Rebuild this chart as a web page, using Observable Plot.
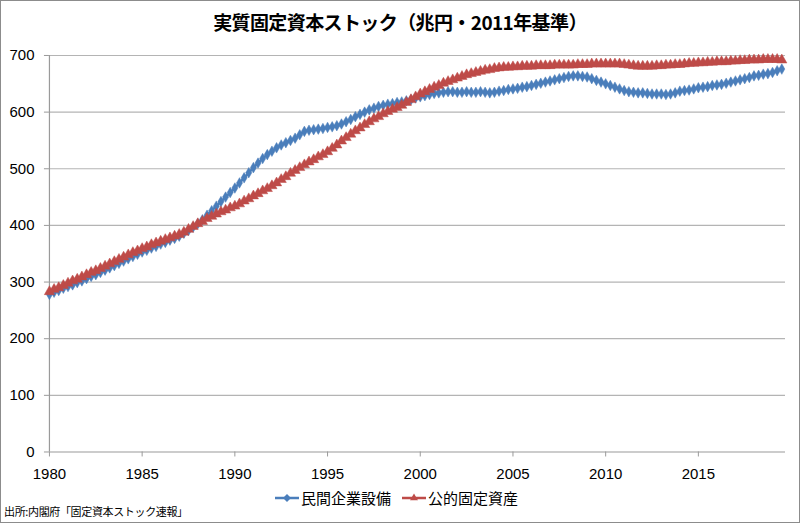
<!DOCTYPE html>
<html>
<head>
<meta charset="utf-8">
<script src="https://cdn.jsdelivr.net/npm/d3@7"></script>
<script src="https://cdn.jsdelivr.net/npm/@observablehq/plot@0.6"></script>
<style>
  html, body { margin: 0; padding: 0; background: #fff; }
  #chart { position: relative; width: 800px; height: 523px; box-sizing: border-box; border: 1px solid #8c8c8c; background: #fff; overflow: hidden; }
  #title { position: absolute; left: 0; width: 798px; top: 7px; text-align: center; font-family: "Noto Sans CJK JP", sans-serif; font-weight: bold; font-size: 19px; letter-spacing: -0.6px; color: #000; }
  #plot { position: absolute; left: -1px; top: 39px; }
  #legend { position: absolute; top: 486px; left: 273px; font-family: "Noto Sans CJK JP", sans-serif; font-size: 15px; color: #000; display: flex; align-items: center; }
  #legend .item { display: flex; align-items: center; margin-right: 10px; }
  #caption { position: absolute; left: 3px; top: 502px; font-family: "Noto Sans CJK JP", sans-serif; font-size: 11px; letter-spacing: -0.35px; color: #000; }
</style>
</head>
<body>
<div id="chart">
  <div id="title">実質固定資本ストック（兆円・2011年基準）</div>
  <div id="plot"></div>
  <div id="legend"></div>
  <div id="caption">出所:内閣府「固定資本ストック速報」</div>
</div>
<script>
// Quarterly series, 1980Q1 onward
const startYear = 1980;
const seriesNames = ["民間企業設備", "公的固定資産"];
const seriesColors = ["#4a7ebb", "#be4b48"];
const xTicks = [1980, 1985, 1990, 1995, 2000, 2005, 2010, 2015];
const yTicks = [0, 100, 200, 300, 400, 500, 600, 700];

const privateValues = [
  278, 282, 285, 289,  292, 295, 299, 302,  306, 310, 313, 317,  321, 325, 329, 333,
  337, 341, 345, 349,  353, 356, 360, 363,  367, 370, 374, 377,  381, 386, 391, 397,
  403, 410, 418, 426,  434, 442, 450, 458,  466, 475, 484, 493,  502, 510, 518, 525,
  531, 537, 542, 546,  550, 554, 560, 566,  568, 569, 570, 571,  573, 574, 576, 579,
  583, 587, 592, 596,  600, 604, 607, 610,  612, 614, 615, 617,  618, 620, 622, 625,
  627, 629, 631, 633,  634, 635, 636, 636,  635, 635, 636, 635,  635, 636, 635, 634,
  635, 637, 638, 640,  641, 642, 644, 645,  647, 649, 651, 653,  655, 657, 659, 661,
  663, 664, 664, 663,  662, 659, 656, 653,  650, 647, 644, 641,  638, 636, 635, 634,
  634, 633, 632, 632,  632, 631, 632, 634,  637, 638, 639, 641,  643, 644, 645, 647,
  648, 649, 651, 653,  655, 657, 659, 661,  664, 665, 667, 668,  670, 673, 676
];

const publicValues = [
  283, 287, 290, 294,  298, 302, 305, 309,  313, 317, 320, 324,  328, 332, 336, 340,
  344, 348, 352, 355,  359, 362, 366, 369,  372, 375, 378, 381,  384, 388, 393, 398,
  403, 407, 412, 416,  420, 424, 427, 431,  434, 438, 443, 447,  452, 456, 461, 465,
  470, 475, 481, 486,  492, 497, 502, 507,  512, 516, 521, 525,  530, 536, 542, 549,
  555, 561, 567, 572,  578, 583, 588, 592,  597, 601, 605, 608,  612, 617, 622, 627,
  632, 636, 640, 644,  647, 651, 654, 657,  660, 663, 666, 668,  670, 672, 674, 675,
  677, 678, 679, 679,  680, 680, 681, 681,  681, 682, 682, 682,  682, 683, 683, 683,
  683, 683, 684, 684,  684, 685, 685, 685,  685, 685, 685, 685,  684, 683, 682, 681,
  681, 681, 681, 682,  682, 683, 683, 684,  684, 685, 686, 686,  687, 687, 688, 688,
  689, 689, 689, 690,  690, 691, 691, 692,  692, 692, 693, 693,  693, 693, 692
];

const privateData = privateValues.map((v, i) => ({t: startYear + i / 4, v, s: seriesNames[0]}));
const publicData = publicValues.map((v, i) => ({t: startYear + i / 4, v, s: seriesNames[1]}));

const axisFont = "'Liberation Sans', Arial, sans-serif";

const chart = Plot.plot({
  width: 800,
  height: 442,
  marginLeft: 49,
  marginRight: 14,
  marginTop: 15,
  marginBottom: 30,
  style: {fontFamily: axisFont, fontSize: "15px", color: "#000", background: "transparent"},
  x: {domain: [1980, 2019.7]},
  y: {domain: [0, 700]},
  marks: [
    Plot.ruleY(yTicks.filter(d => d > 0), {stroke: "#b4b4b4", strokeWidth: 1.2}),
    Plot.ruleY([0], {stroke: "#9a9a9a", strokeWidth: 1.2}),
    Plot.ruleX([1980], {stroke: "#9a9a9a", strokeWidth: 1.2}),
    Plot.axisY({ticks: yTicks, tickSize: 5, tickPadding: 10, stroke: "#9a9a9a", fill: "#000", label: null, fontSize: 15}),
    Plot.axisX({ticks: xTicks, tickSize: 5, tickPadding: 11, tickFormat: d => String(d), stroke: "#9a9a9a", fill: "#000", label: null, fontSize: 15}),
    Plot.line(privateData, {x: "t", y: "v", stroke: seriesColors[0], strokeWidth: 2.5}),
    Plot.dot(privateData, {x: "t", y: "v", symbol: "diamond", r: 3.2, fill: seriesColors[0], stroke: seriesColors[0], strokeWidth: 0.5}),
    Plot.line(publicData, {x: "t", y: "v", stroke: seriesColors[1], strokeWidth: 2.5}),
    Plot.dot(publicData, {x: "t", y: "v", symbol: "triangle", r: 3.8, fill: seriesColors[1], stroke: seriesColors[1], strokeWidth: 0.5})
  ]
});
document.getElementById("plot").appendChild(chart);

// Legend
const legend = document.getElementById("legend");
const symbols = ["diamond", "triangle"];
seriesNames.forEach((name, i) => {
  const item = document.createElement("div");
  item.className = "item";
  const sym = d3.symbol(symbols[i] === "diamond" ? d3.symbolDiamond2 : d3.symbolTriangle2, symbols[i] === "diamond" ? 40 : 45)();
  item.innerHTML = `<svg width="26" height="14" style="margin-right:1px"><line x1="1" x2="25" y1="7" y2="7" stroke="${seriesColors[i]}" stroke-width="2.5"/><path d="${sym}" transform="translate(13,7)" fill="${seriesColors[i]}"/></svg><span>${name}</span>`;
  legend.appendChild(item);
});
</script>
</body>
</html>
